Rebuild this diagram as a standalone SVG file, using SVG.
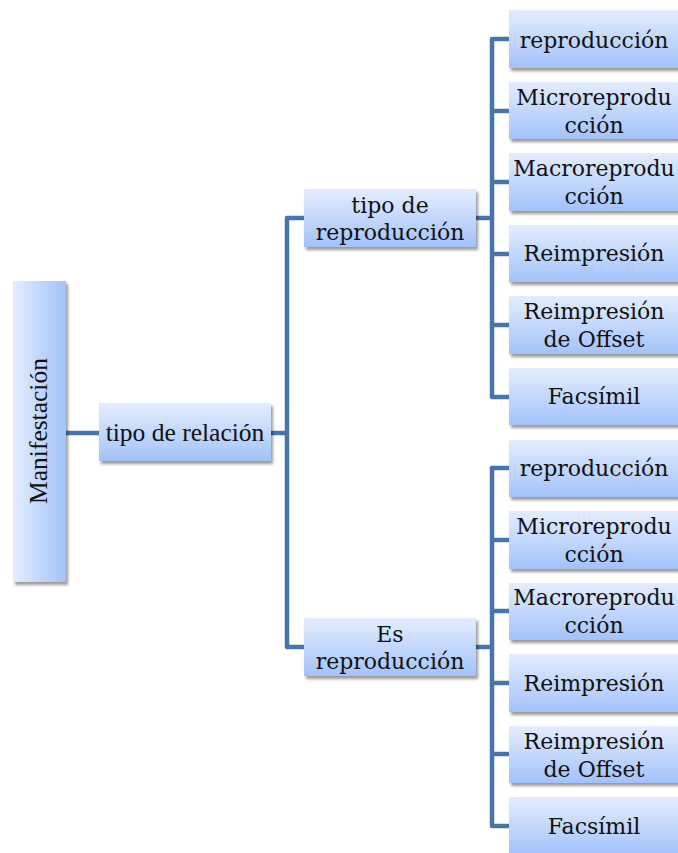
<svg xmlns="http://www.w3.org/2000/svg" width="678" height="853" viewBox="0 0 678 853">
<defs>
<linearGradient id="gv" x1="0" y1="0" x2="0" y2="1"><stop offset="0" stop-color="#e4edfd"/><stop offset="1" stop-color="#a3c2fa"/></linearGradient>
<linearGradient id="gh" x1="0" y1="0" x2="1" y2="0"><stop offset="0" stop-color="#e4edfd"/><stop offset="1" stop-color="#a3c2fa"/></linearGradient>
<filter id="sh" x="-10%" y="-10%" width="130%" height="130%"><feDropShadow dx="2" dy="3" stdDeviation="1.6" flood-color="#000" flood-opacity="0.4"/></filter>
</defs>
<style>
.b{fill:url(#gv);filter:url(#sh)}
.bh{fill:url(#gh);filter:url(#sh)}
.t{font-family:"DejaVu Serif",serif;font-size:22px;fill:#111;text-anchor:middle}
.g{font-family:"Liberation Serif",serif;font-size:25.5px;fill:#111;text-anchor:middle}
.c{fill:none;stroke:#4a73a9;stroke-width:4.5;stroke-linejoin:round}
</style>
<rect width="678" height="853" fill="#fff"/>
<g id="connectors">
<path class="c" d="M66,433H99"/>
<path class="c" d="M271,433H287"/>
<path class="c" d="M304,218H287V647H304"/>
<path class="c" d="M476,218H492"/>
<path class="c" d="M509,39H492V397H509M492,111H509M492,182H509M492,254H509M492,325H509"/>
<path class="c" d="M476,647H492"/>
<path class="c" d="M509,468H492V826H509M492,540H509M492,611H509M492,683H509M492,754H509"/>
</g>
<g id="manifestacion"><rect class="bh" x="13" y="281" width="53" height="301"/><text class="g" transform="translate(47,431) rotate(-90)">Manifestación</text></g>
<g id="tipo-relacion"><rect class="b" x="99" y="403" width="172" height="58"/><text class="g" x="185" y="441">tipo de relación</text></g>
<g id="tipo-reproduccion"><rect class="b" x="304" y="189" width="172" height="58"/><text class="t" x="390" y="213">tipo de</text><text class="t" x="390" y="240">reproducción</text></g>
<g id="es-reproduccion"><rect class="b" x="304" y="618" width="172" height="58"/><text class="t" x="390" y="642">Es</text><text class="t" x="390" y="669">reproducción</text></g>
<g id="a1"><rect class="b" x="509" y="10" width="172" height="58"/><text class="t" x="594" y="48">reproducción</text></g>
<g id="a2"><rect class="b" x="509" y="82" width="172" height="57"/><text class="t" x="594" y="105">Microreprodu</text><text class="t" x="594" y="133">cción</text></g>
<g id="a3"><rect class="b" x="509" y="153" width="172" height="58"/><text class="t" x="594" y="176">Macroreprodu</text><text class="t" x="594" y="204">cción</text></g>
<g id="a4"><rect class="b" x="509" y="225" width="172" height="57"/><text class="t" x="594" y="261">Reimpresión</text></g>
<g id="a5"><rect class="b" x="509" y="296" width="172" height="58"/><text class="t" x="594" y="319">Reimpresión</text><text class="t" x="594" y="347">de Offset</text></g>
<g id="a6"><rect class="b" x="509" y="368" width="172" height="57"/><text class="t" x="594" y="404">Facsímil</text></g>
<g id="b1"><rect class="b" x="509" y="440" width="172" height="57"/><text class="t" x="594" y="476">reproducción</text></g>
<g id="b2"><rect class="b" x="509" y="511" width="172" height="58"/><text class="t" x="594" y="534">Microreprodu</text><text class="t" x="594" y="562">cción</text></g>
<g id="b3"><rect class="b" x="509" y="583" width="172" height="57"/><text class="t" x="594" y="605">Macroreprodu</text><text class="t" x="594" y="633">cción</text></g>
<g id="b4"><rect class="b" x="509" y="654" width="172" height="58"/><text class="t" x="594" y="691">Reimpresión</text></g>
<g id="b5"><rect class="b" x="509" y="726" width="172" height="57"/><text class="t" x="594" y="749">Reimpresión</text><text class="t" x="594" y="777">de Offset</text></g>
<g id="b6"><rect class="b" x="509" y="797" width="172" height="58"/><text class="t" x="594" y="834">Facsímil</text></g>
</svg>
